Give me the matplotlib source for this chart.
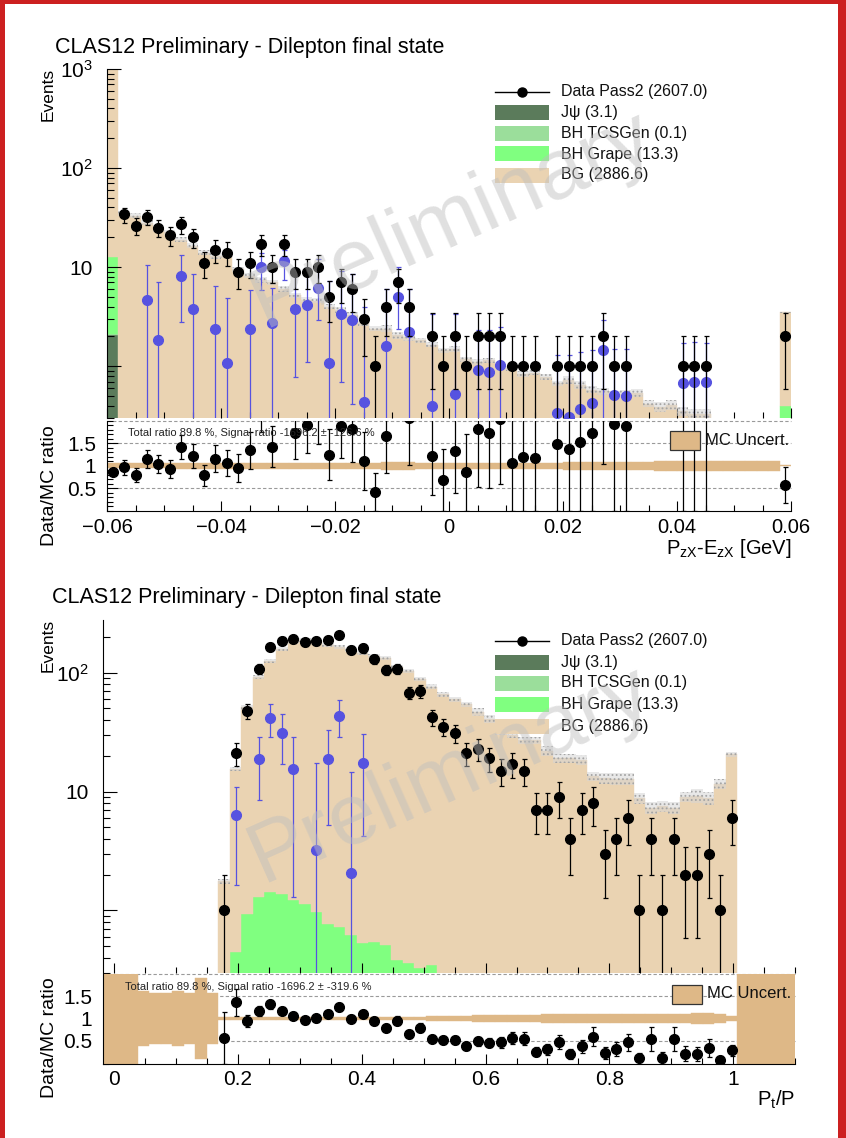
import numpy as np
import matplotlib.pyplot as plt
from matplotlib.patches import Rectangle
from matplotlib.lines import Line2D
from matplotlib.ticker import FixedLocator, MultipleLocator, LogLocator, NullFormatter

plt.rcParams['font.family'] = ['Liberation Sans', 'DejaVu Sans']
plt.rcParams['mathtext.fontset'] = 'custom'
plt.rcParams['mathtext.rm'] = 'Liberation Sans'
plt.rcParams['mathtext.default'] = 'regular'
plt.rcParams['hatch.linewidth'] = 0.8

W, H = 846, 1138

# ---------------- P_zX - E_zX : 60 bins on [-0.06, 0.06] ----------------
pz_edges = np.linspace(-0.06, 0.06, 61)
pz_data = [2225, 34, 26, 32, 25, 21, 27, 20, 11, 15,
           14, 9, 11, 17, 10, 17, 9, 9, 10, 5,
           7, 6, 3, 1, 4, 7, 4, 0, 2, 1,
           2, 1, 2, 2, 2, 1, 1, 1, 0, 1,
           1, 1, 1, 2, 1, 1, 0, 0, 0, 0,
           1, 1, 1, 0, 0, 0, 0, 0, 0, 2]
pz_bg = [2545, 35, 33, 28, 24, 22.5, 19, 16.5, 14, 13,
         13.1, 9.5, 8.2, 7.4, 7.0, 6.0, 5.2, 4.7, 4.6, 4.0,
         3.7, 3.3, 2.7, 2.4, 2.4, 2.05, 1.95, 1.83, 1.65, 1.45,
         1.5, 1.17, 1.1, 1.15, 0.98, 0.95, 0.84, 0.86, 0.78, 0.67,
         0.73, 0.65, 0.58, 0.56, 0.52, 0.53, 0.54, 0.42, 0.39, 0.41,
         0.35, 0.33, 0.33, 0, 0, 0, 0, 0, 0, 3.1]
pz_jpsi = [2.05] + [0] * 59
pz_tcs = [0.05] + [0] * 59
pz_grape = [10.5] + [0] * 58 + [0.4]
pz_unc = [0.056] * 6 + [0.063] * 18 + [0.085] * 3 + [0.063] * 13 + [0.085] * 8 + [0.11] * 11 + [0.01]

pz_sig_bin = [3, 4, 6, 7, 9, 10, 12, 13, 14, 15, 16, 17, 18, 19, 20, 21, 22, 24, 25, 26,
              28, 30, 32, 33, 34, 39, 40, 41, 42, 43, 44, 45, 50, 51, 52]
pz_sig = [4.7, 1.86, 8.1, 3.8, 2.4, 1.08, 2.4, 10, 2.7, 11.5, 3.8, 4.1, 6.1, 1.08, 3.4, 2.9, 0.44, 1.6, 5, 2.2,
          0.40, 0.53, 0.92, 0.87, 1.04, 0.34, 0.31, 0.37, 0.43, 1.45, 0.51, 0.5, 0.68, 0.69, 0.69]
pz_sig_hi = [10.6, 7, 13.4, 8.5, 6.4, 4.9, 5.9, 14, 6.1, 14.8, 9, 9.8, 12, 7.2, 9.1, 8.5, 4, 6, 10, 6,
             3.4, 3.4, 2.3, 2.3, 2.5, 1.3, 1.3, 1.4, 1.45, 2.9, 1.5, 1.48, 1.7, 1.75, 1.7]
pz_sig_lo = [0, 0, 2.8, 0, 0, 0, 0, 5.9, 0, 7.4, 0.78, 1.1, 2.9, 0, 0.7, 0.42, 0, 0, 2.4, 0,
             0, 0, 0, 0, 0, 0, 0, 0, 0, 0, 0, 0, 0, 0, 0]

# ---------------- Pt/P : 60 bins on [-0.0183, 1.1] ----------------
pt_edges = np.linspace(-0.11 / 6, 1.1, 61)
pt_data = [0, 0, 0, 0, 0, 0, 0, 0, 0, 0,
           1, 21, 48, 108, 164, 185, 192, 180, 185, 188,
           206, 156, 160, 130, 105, 107, 68, 70, 42, 35,
           31, 21, 23, 19, 15, 17, 15, 7, 7, 9,
           4, 7, 8, 3, 4, 6, 1, 4, 1, 4,
           2, 2, 3, 1, 6, 0, 0, 0, 0, 0]
pt_bg = [0, 0, 0, 0, 0, 0, 0, 0, 0, 0,
         1.75, 15.0, 50, 90.7, 123.6, 156.6, 179.8, 186.9, 184, 170.2,
         163.3, 155.4, 145.5, 137.5, 131.5, 111.6, 103.6, 87.7, 75.6, 66,
         60, 54, 47, 41, 32, 30, 27, 27, 22, 19,
         19, 18.5, 13.4, 13, 12.8, 12.8, 8.8, 7.3, 7.5, 7.3,
         9, 9.2, 8.8, 11.6, 20.5, 0, 0, 0, 0, 0]
pt_grape = [0] * 11 + [0.45, 0.94, 1.29, 1.43, 1.38, 1.23, 1.14, 0.96, 0.77,
                       0.72, 0.62, 0.53, 0.54, 0.51, 0.385, 0.36, 0.33, 0.35] + [0] * 31
pt_unc = [1.0, 1.0, 1.0, 0.62, 0.57, 0.57, 0.62, 0.57, 0.91, 0.57] + [0.04] * 18 + [0.048] * 4 \
         + [0.074] * 2 + [0.067] * 4 + [0.093] * 5 + [0.11] * 7 + [0.09, 0.13, 0.13, 0.093, 0.056] + [1.0] * 5

pt_sig_bin = [11, 13, 14, 15, 16, 18, 19, 20, 21, 22]
pt_sig = [6.3, 18.7, 41.4, 31, 15.4, 3.2, 18.9, 43.5, 2.07, 17.3]
pt_sig_hi = [10.9, 29, 54, 44.6, 29, 17.3, 33, 59, 14.7, 30.5]
pt_sig_lo = [1.64, 8.4, 29, 17.1, 1.3, 0, 5.2, 29, 0, 4.2]

legend_labels = ['Data Pass2 (2607.0)', 'J\u03c8 (3.1)', 'BH TCSGen (0.1)', 'BH Grape (13.3)', 'BG (2886.6)']

c_jpsi = '#5b7b5b'
c_tcs = '#9bde9b'
c_grape = '#80ff80'
c_bg = '#ead3b2'
c_band = '#deb887'
c_sig = '#5652e0'


def fx(x):
    return x / W


def fy(y):
    return 1 - y / H


def add_ax(fig, left, right, top, bottom):
    return fig.add_axes([fx(left), fy(bottom), (right - left) / W, (bottom - top) / H])


def draw_main(ax, edges, layers, data, unc, sig_bin, sig, sig_lo, sig_hi):
    ax.set_yscale('log', nonpositive='clip')
    centers = 0.5 * (edges[1:] + edges[:-1])
    width = edges[1] - edges[0]
    base = np.zeros(len(centers))
    for vals, col in layers:
        vals = np.asarray(vals, float)
        m = vals > 0
        ax.bar(centers[m], vals[m], width=width, bottom=base[m], color=col,
               edgecolor=col, linewidth=0.3, zorder=1)
        base = base + vals
    # MC uncertainty band around the stack total
    unc = np.asarray(unc)
    m = base > 0
    lo = base * (1 - unc)
    hi = base * (1 + unc)
    ax.bar(centers[m], (hi - lo)[m], width=width, bottom=lo[m], facecolor=(0.84, 0.84, 0.84, 0.55),
           edgecolor='#a5a5a5', hatch='....', linewidth=0, zorder=2)
    # subtracted signal points
    sb = np.asarray(sig_bin)
    sv = np.asarray(sig, float)
    ax.errorbar(centers[sb], sv, yerr=[sv - np.asarray(sig_lo), np.asarray(sig_hi) - sv],
                fmt='o', ms=7, color=c_sig, elinewidth=0.9, capsize=1.8, capthick=0.9, zorder=4)
    d = np.asarray(data, float)
    md = d > 0
    ax.errorbar(centers[md], d[md], yerr=np.sqrt(d[md]), fmt='o', ms=7, color='black',
                elinewidth=0.9, capsize=1.8, capthick=0.9, zorder=5)
    for s in ['top', 'right', 'bottom']:
        ax.spines[s].set_visible(False)
    ax.spines['left'].set_linewidth(0.8)
    ax.set_xlim(edges[0], edges[-1])
    ax.tick_params(axis='y', which='major', direction='in', length=10, width=0.8,
                   labelsize=15, pad=10, right=False)
    ax.tick_params(axis='y', which='minor', direction='in', length=5, width=0.8, right=False)
    ax.tick_params(axis='x', which='both', direction='in', top=False, labelbottom=False, width=0.8)
    ax.tick_params(axis='x', which='major', length=7)
    ax.tick_params(axis='x', which='minor', length=4)
    ax.yaxis.set_minor_locator(LogLocator(base=10, subs=np.arange(2, 10)))
    ax.yaxis.set_minor_formatter(NullFormatter())
    return base


def draw_ratio(ax, edges, data, total, unc):
    centers = 0.5 * (edges[1:] + edges[:-1])
    width = edges[1] - edges[0]
    for yv in (0.5, 1.5, 2.0):
        ax.axhline(yv, color='#9a9a9a', lw=0.8, ls=(0, (3, 2)), zorder=1, clip_on=False)
    unc = np.asarray(unc)
    lo = np.clip(1 - unc, 0, 2)
    hi = np.clip(1 + unc, 0, 2)
    ax.bar(centers, hi - lo, width=width, bottom=lo, color=c_band, edgecolor=c_band,
           linewidth=0.3, zorder=2)
    d = np.asarray(data, float)
    m = (d > 0) & (total > 0)
    r = d[m] / total[m]
    ax.errorbar(centers[m], r, yerr=np.sqrt(d[m]) / total[m], fmt='o', ms=7, color='black',
                elinewidth=0.9, capsize=1.8, capthick=0.9, zorder=5)
    ax.set_xlim(edges[0], edges[-1])
    ax.set_ylim(0, 2)
    for s in ['top', 'right']:
        ax.spines[s].set_visible(False)
    ax.spines['left'].set_linewidth(0.8)
    ax.spines['bottom'].set_linewidth(0.8)
    ax.yaxis.set_major_locator(FixedLocator([0.5, 1.0, 1.5]))
    ax.set_yticklabels(['0.5', '1', '1.5'])
    ax.yaxis.set_minor_locator(MultipleLocator(0.1))
    ax.tick_params(axis='y', which='major', direction='in', length=8, width=0.8,
                   labelsize=15, pad=8, right=False)
    ax.tick_params(axis='y', which='minor', direction='in', length=4, width=0.8, right=False)
    ax.tick_params(axis='x', which='both', direction='in', top=False, width=0.8, labelsize=14.5, pad=5)
    ax.tick_params(axis='x', which='major', length=7)
    ax.tick_params(axis='x', which='minor', length=4)


def legend_block(fig, rows):
    colors = [None, c_jpsi, c_tcs, c_grape, c_bg]
    for yy, lab, col in zip(rows, legend_labels, colors):
        if col is None:
            fig.add_artist(Line2D([fx(495), fx(549)], [fy(yy), fy(yy)], color='black', lw=1,
                                  transform=fig.transFigure))
            fig.add_artist(Line2D([fx(522)], [fy(yy)], marker='o', ms=6.5, color='black',
                                  transform=fig.transFigure))
        else:
            fig.add_artist(Rectangle((fx(495), fy(yy + 7.5)), 54 / W, 15 / H, facecolor=col,
                                     edgecolor='none', transform=fig.transFigure))
        fig.text(fx(561), fy(yy), lab, ha='left', va='center', fontsize=11.5, color='#111')


def mc_uncert_box(fig, x, y):
    fig.add_artist(Rectangle((fx(x), fy(y + 9.5)), 30 / W, 19 / H, facecolor=c_band,
                             edgecolor='#333333', lw=0.9, transform=fig.transFigure, zorder=10))
    fig.text(fx(x + 35), fy(y), 'MC Uncert.', ha='left', va='center', fontsize=12, color='#111')


fig = plt.figure(figsize=(W / 100, H / 100), dpi=100)

# ---------------- upper block ----------------
ax1 = add_ax(fig, 107, 791, 69, 418)
tot1 = draw_main(ax1, pz_edges, [(pz_jpsi, c_jpsi), (pz_tcs, c_tcs), (pz_grape, c_grape), (pz_bg, c_bg)],
                 pz_data, pz_unc, pz_sig_bin, pz_sig, pz_sig_lo, pz_sig_hi)
ax1.set_ylim(0.3, 1000)
ax1.yaxis.set_major_locator(FixedLocator([1, 10, 100, 1000]))
ax1.set_yticklabels(['', '10', '$10^{2}$', '$10^{3}$'])
ax1.xaxis.set_major_locator(MultipleLocator(0.02))
ax1.xaxis.set_minor_locator(MultipleLocator(0.005))

ax2 = add_ax(fig, 107, 791, 420.8, 510.8)
draw_ratio(ax2, pz_edges, pz_data, tot1, pz_unc)
ax2.xaxis.set_major_locator(FixedLocator([-0.06, -0.04, -0.02, 0, 0.02, 0.04, 0.06]))
ax2.set_xticklabels(['\u22120.06', '\u22120.04', '\u22120.02', '0', '0.02', '0.04', '0.06'])
ax2.xaxis.set_minor_locator(MultipleLocator(0.005))

fig.text(fx(55), fy(48), 'CLAS12 Preliminary - Dilepton final state', ha='left', va='center', fontsize=15.5)
fig.text(fx(48), fy(68), 'Events', rotation=90, ha='center', va='top', fontsize=12.5)
fig.text(fx(50), fy(486), 'Data/MC ratio', rotation=90, ha='center', va='center', fontsize=14)
fig.text(fx(792), fy(548), 'P$_{zX}$-E$_{zX}$ [GeV]', ha='right', va='center', fontsize=14.5)
legend_block(fig, [91.5, 112.7, 133.3, 154, 175])
fig.text(fx(128), fy(433.3), 'Total ratio 89.8 %, Signal ratio -1696.2 \u00b1 -126.6 %',
         ha='left', va='center', fontsize=8, color='#222')
mc_uncert_box(fig, 670, 441)

# ---------------- lower block ----------------
ax3 = add_ax(fig, 103, 795, 619.5, 972.5)
tot3 = draw_main(ax3, pt_edges, [(pt_grape, c_grape), (pt_bg, c_bg)],
                 pt_data, pt_unc, pt_sig_bin, pt_sig, pt_sig_lo, pt_sig_hi)
ax3.set_ylim(0.3, 280)
ax3.yaxis.set_major_locator(FixedLocator([1, 10, 100]))
ax3.set_yticklabels(['', '10', '$10^{2}$'])
ax3.xaxis.set_major_locator(MultipleLocator(0.2))
ax3.xaxis.set_minor_locator(MultipleLocator(0.05))

ax4 = add_ax(fig, 103, 795, 973.5, 1063.5)
draw_ratio(ax4, pt_edges, pt_data, tot3, pt_unc)
ax4.xaxis.set_major_locator(FixedLocator([0, 0.2, 0.4, 0.6, 0.8, 1.0]))
ax4.set_xticklabels(['0', '0.2', '0.4', '0.6', '0.8', '1'])
ax4.xaxis.set_minor_locator(MultipleLocator(0.05))
ax4.tick_params(axis='x', labelsize=15)

fig.text(fx(52), fy(598), 'CLAS12 Preliminary - Dilepton final state', ha='left', va='center', fontsize=15.5)
fig.text(fx(48), fy(619), 'Events', rotation=90, ha='center', va='top', fontsize=12.5)
fig.text(fx(50), fy(1038), 'Data/MC ratio', rotation=90, ha='center', va='center', fontsize=14)
fig.text(fx(795), fy(1100), 'P$_{t}$/P', ha='right', va='center', fontsize=14.5)
legend_block(fig, [641, 662.5, 683, 704.5, 726.5])
fig.text(fx(125), fy(986.7), 'Total ratio 89.8 %, Signal ratio -1696.2 \u00b1 -319.6 %',
         ha='left', va='center', fontsize=8, color='#222')
mc_uncert_box(fig, 672, 994)

# watermarks
for cx, cy in [(452, 220), (450, 775)]:
    fig.text(fx(cx), fy(cy), 'Preliminary', rotation=24, ha='center', va='center',
             fontsize=62, color=(0.745, 0.745, 0.745), alpha=0.47, zorder=20)

# slide frame
for (x0, y0, w, h) in [(0, 0, 5, H), (0, 0, W, 4), (838, 0, 8, H)]:
    fig.add_artist(Rectangle((fx(x0), fy(y0 + h)), w / W, h / H, facecolor='#cc2020',
                             edgecolor='none', transform=fig.transFigure, zorder=30))

fig.savefig('out.png', dpi=100)
